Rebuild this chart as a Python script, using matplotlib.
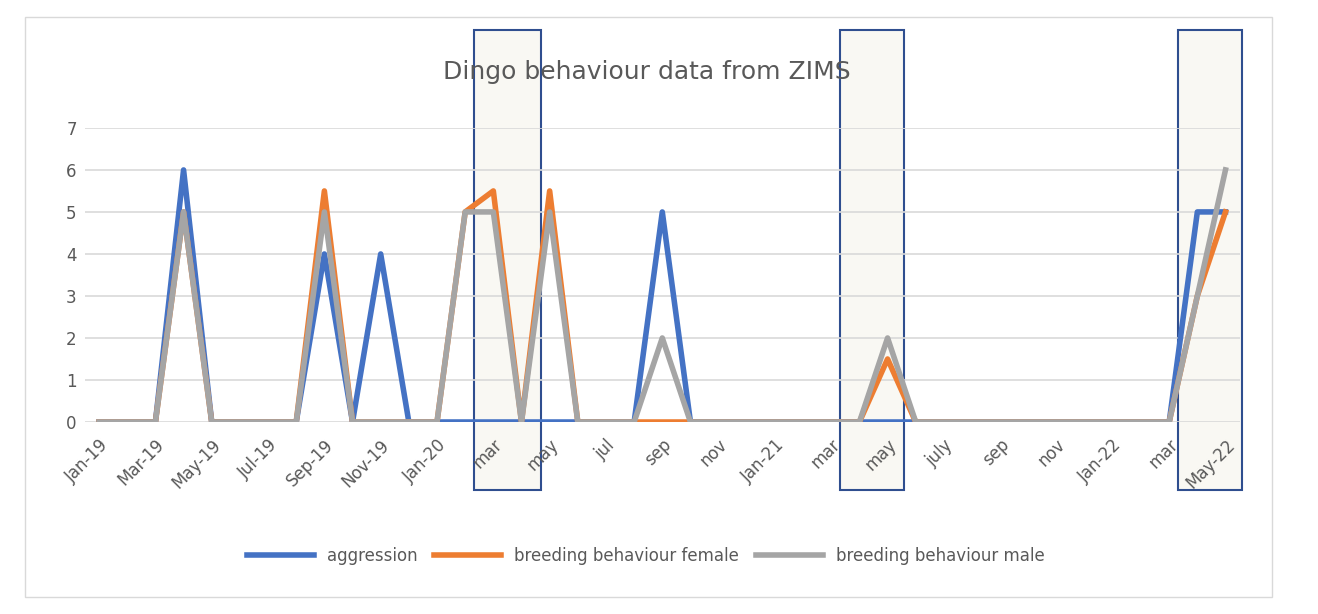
import numpy as np
import matplotlib.pyplot as plt
from matplotlib.patches import Rectangle

labels = ["Jan-19", "Mar-19", "May-19", "Jul-19", "Sep-19", "Nov-19", "Jan-20",
          "mar", "may", "jul", "sep", "nov", "Jan-21", "mar", "may", "july",
          "sep", "nov", "Jan-22", "mar", "May-22"]

aggression = [0, 0, 0, 6, 0, 0, 0, 0, 4, 0, 4, 0, 0, 0, 0, 0, 0, 0, 0, 0, 5, 0,
              0, 0, 0, 0, 0, 0, 0, 0, 0, 0, 0, 0, 0, 0, 0, 0, 0, 5, 5]
female = [0, 0, 0, 5, 0, 0, 0, 0, 5.5, 0, 0, 0, 0, 5, 5.5, 0, 5.5, 0, 0, 0, 0, 0,
          0, 0, 0, 0, 0, 0, 1.5, 0, 0, 0, 0, 0, 0, 0, 0, 0, 0, 3, 5]
male = [0, 0, 0, 5, 0, 0, 0, 0, 5, 0, 0, 0, 0, 5, 5, 0, 5, 0, 0, 0, 2, 0,
        0, 0, 0, 0, 0, 0, 2, 0, 0, 0, 0, 0, 0, 0, 0, 0, 0, 3, 6]
highlights = [(13.3, 15.7), (26.3, 28.6), (38.3, 40.6)]

x = np.arange(len(aggression))
fig = plt.figure(figsize=(13.18, 6.14), dpi=100)
fig.patches.append(Rectangle((25/1318, 17/614), 1247/1318, 580/614, transform=fig.transFigure,
                             fill=False, edgecolor="#d9d9d9", lw=1))
ax = fig.add_axes([0.0645, 0.3127, 0.876, 0.479])

for a, b in highlights:
    ax.add_patch(Rectangle((a, -0.231), b - a, 1.564, transform=ax.get_xaxis_transform(),
                           facecolor=(0.93, 0.91, 0.85, 0.3), edgecolor="#2f4e8f", lw=1.5,
                           clip_on=False, zorder=0.5))

ax.plot(x, aggression, color="#4472c4", lw=4, label="aggression", zorder=3)
ax.plot(x, female, color="#ed7d31", lw=4, label="breeding behaviour female", zorder=4)
ax.plot(x, male, color="#a5a5a5", lw=4, label="breeding behaviour male", zorder=5)

ax.set_xlim(-0.5, 40.5)
ax.set_ylim(0, 7)
ax.set_yticks(range(8))
ax.set_xticks(x[::2])
ax.set_xticklabels(labels, rotation=45, ha="right", rotation_mode="anchor")
ax.grid(axis="y", color="#d9d9d9", lw=1.2, zorder=0)
ax.set_axisbelow(True)
for s in ax.spines.values():
    s.set_visible(False)
ax.tick_params(length=0, labelsize=12, colors="#595959", pad=6)
ax.tick_params(axis="x", pad=10)

fig.text(0.491, 0.883, "Dingo behaviour data from ZIMS", ha="center", va="center",
         fontsize=18, color="#595959")
fig.legend(loc="center", bbox_to_anchor=(0.49, 0.095), ncol=3, frameon=False,
           fontsize=12, handlelength=4, columnspacing=1.0, labelcolor="#595959")
fig.savefig("out.png")
